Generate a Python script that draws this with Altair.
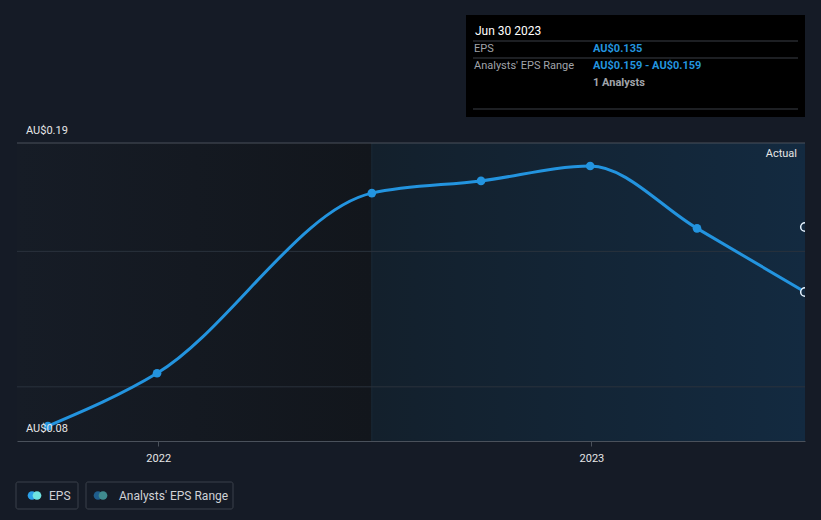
import altair as alt
import pandas as pd

# ---- data ----
dates = ["2021-09-30", "2021-12-31", "2022-06-30", "2022-09-30", "2022-12-31", "2023-03-31", "2023-06-30"]
eps = [0.0855, 0.105, 0.1715, 0.176, 0.1815, 0.1585, 0.135]
analyst_date = ["2023-06-30"]
analyst_eps = [0.159]
grid_values = [0.15, 0.10]
label_values = [0.19, 0.08]
label_texts = ["AU$0.19", "AU$0.08"]
region_start = ["2021-09-04", "2022-06-30"]
region_end = ["2022-06-30", "2023-06-30"]

FONT = "Roboto"
BG = "#151b26"
BLUE = "#2394df"

eps_df = pd.DataFrame({"date": dates, "eps": eps})
last_df = eps_df.iloc[[-1]]
an_df = pd.DataFrame({"date": analyst_date, "eps": analyst_eps})
grid_df = pd.DataFrame({"v": grid_values})
lab_df = pd.DataFrame({"v": label_values, "t": label_texts})
top_df = pd.DataFrame({"v": [0.19]})

xscale = alt.Scale(type="utc",
                   domain=[alt.DateTime(year=2021, month=9, date=4, utc=True),
                           alt.DateTime(year=2023, month=6, date=30, utc=True)])
yscale = alt.Scale(domain=[0.08, 0.19], nice=False, zero=False)

xaxis = alt.Axis(values=[alt.DateTime(year=2022, month=1, date=1, utc=True),
                         alt.DateTime(year=2023, month=1, date=1, utc=True)],
                 format="%Y", domainColor="#4a515b", tickColor="#4a515b",
                 tickSize=5, labelColor="#e6e6e6", labelFont=FONT,
                 labelFontSize=11, labelPadding=6, grid=False, title=None)

X = lambda f="date": alt.X(f"{f}:T", scale=xscale, axis=xaxis, title=None)
Y = lambda f="eps": alt.Y(f"{f}:Q", scale=yscale, axis=None, title=None)

left_reg = alt.Chart(pd.DataFrame({"s": [region_start[0]], "e": [region_end[0]]})).mark_rect(
    fill=alt.Gradient(gradient="linear", x1=0, x2=1, y1=0, y2=0,
                      stops=[alt.GradientStop(color="#161c26", offset=0),
                             alt.GradientStop(color="#12161c", offset=1)])
).encode(x=X("s"), x2="e:T", y=alt.value(0), y2=alt.value(298))

right_reg = alt.Chart(pd.DataFrame({"s": [region_start[1]], "e": [region_end[1]]})).mark_rect(
    fill=alt.Gradient(gradient="linear", x1=0, x2=1, y1=0, y2=0,
                      stops=[alt.GradientStop(color="#13202c", offset=0),
                             alt.GradientStop(color="#132a40", offset=1)])
).encode(x=X("s"), x2="e:T", y=alt.value(0), y2=alt.value(298))

divider = alt.Chart(pd.DataFrame({"s": [region_start[1]]})).mark_rule(color="#1a2a38", strokeWidth=1).encode(
    x=X("s"), y=alt.value(0), y2=alt.value(298))

grid = alt.Chart(grid_df).mark_rule(color="#2a323d", strokeWidth=1).encode(
    y=Y("v"), x=alt.value(0), x2=alt.value(788))

top_line = alt.Chart(top_df).mark_rule(color="#4a515b", strokeWidth=1).encode(
    y=Y("v"), x=alt.value(0), x2=alt.value(788))

line = alt.Chart(eps_df).mark_line(color=BLUE, strokeWidth=3, interpolate="monotone", clip=True).encode(
    x=X(), y=Y())

pts = alt.Chart(eps_df.iloc[:-1]).mark_circle(color=BLUE, size=75, opacity=1).encode(x=X(), y=Y())

open_pts = alt.Chart(pd.concat([last_df, an_df])).mark_point(
    filled=True, fill="#132a40", stroke="#e8f4ff", strokeWidth=1.5, size=75, clip=True, opacity=1
).encode(x=X(), y=Y())

ylabels = alt.Chart(lab_df).mark_text(align="left", baseline="middle", dy=-12, font=FONT,
                                      fontSize=11, color="#e6e6e6").encode(
    y=Y("v"), x=alt.value(9), text="t:N")

actual = alt.Chart(pd.DataFrame({"t": ["Actual"]})).mark_text(
    align="right", baseline="middle", font=FONT, fontSize=11, color="#e6e6e6").encode(
    x=alt.value(780), y=alt.value(11), text="t:N")

# ---- tooltip box ----
tip_box = alt.Chart(pd.DataFrame({"a": [1]})).mark_rect(fill="#000000").encode(
    x=alt.value(449), x2=alt.value(788), y=alt.value(-128), y2=alt.value(-26))
tip_lines = alt.Chart(pd.DataFrame({"yy": [-102, -85, -34]})).mark_rule(color="#3a3f47").encode(
    x=alt.value(456), x2=alt.value(781), y=alt.Y("yy:Q", scale=None))
tip_date = alt.Chart(pd.DataFrame({"t": ["Jun 30 2023"]})).mark_text(
    align="left", baseline="middle", font=FONT, fontSize=12, color="#ffffff").encode(
    x=alt.value(458), y=alt.value(-112), text="t:N")
tip_keys = alt.Chart(pd.DataFrame({"t": ["EPS", "Analysts' EPS Range"], "yy": [-94, -77]})).mark_text(
    align="left", baseline="middle", font=FONT, fontSize=11, color="#a0a4aa").encode(
    x=alt.value(457), y=alt.Y("yy:Q", scale=None), text="t:N")
tip_vals = alt.Chart(pd.DataFrame({"t": ["AU$0.135", "AU$0.159 - AU$0.159"], "yy": [-94, -77]})).mark_text(
    align="left", baseline="middle", font=FONT, fontSize=11, fontWeight="bold", color=BLUE).encode(
    x=alt.value(576), y=alt.Y("yy:Q", scale=None), text="t:N")
tip_n = alt.Chart(pd.DataFrame({"t": ["1 Analysts"]})).mark_text(
    align="left", baseline="middle", font=FONT, fontSize=11, fontWeight="bold", color="#a0a4aa").encode(
    x=alt.value(576), y=alt.value(-60), text="t:N")

# ---- legend ----
leg_boxes = alt.Chart(pd.DataFrame({"x1": [-1, 69], "x2": [61, 216]})).mark_rect(
    fill=BG, stroke="#3b414b", strokeWidth=1, cornerRadius=2).encode(
    x=alt.X("x1:Q", scale=None), x2="x2:Q", y=alt.value(339), y2=alt.value(366))
leg_dots = alt.Chart(pd.DataFrame({
    "xx": [15, 20, 81, 86],
    "c": ["#2ba0e8", "#6fe3e0", "#1f5d8c", "#3f8a8e"]})).mark_circle(size=75, opacity=1).encode(
    x=alt.X("xx:Q", scale=None), y=alt.value(352.5), color=alt.Color("c:N", scale=None))
leg_text = alt.Chart(pd.DataFrame({"t": ["EPS", "Analysts' EPS Range"], "xx": [32, 102]})).mark_text(
    align="left", baseline="middle", font=FONT, fontSize=12, color="#d0d2d6").encode(
    x=alt.X("xx:Q", scale=None), y=alt.value(352.5), text="t:N")

chart = alt.layer(
    left_reg, right_reg, divider, grid, top_line, line, pts, open_pts,
    ylabels, actual, tip_box, tip_lines, tip_date, tip_keys, tip_vals, tip_n,
    leg_boxes, leg_dots, leg_text
).properties(
    width=788, height=298, background=BG,
    padding={"left": 17, "top": 143, "right": 16, "bottom": 79},
    autosize=alt.AutoSizeParams(type="none")
).configure_view(stroke=None)

chart.save("out.html", embed_options={"renderer": "svg", "actions": False})
